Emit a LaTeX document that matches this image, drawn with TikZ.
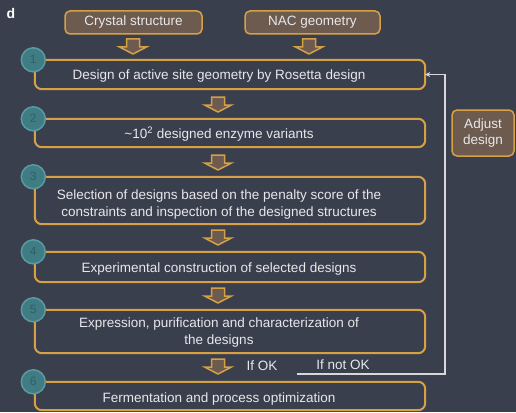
\documentclass[tikz,border=0pt]{standalone}
\usepackage{fontspec}
\setmainfont{Liberation Sans}
\usetikzlibrary{arrows.meta}
\definecolor{bg}{HTML}{3A3F4E}
\definecolor{gold}{HTML}{D6A144}
\definecolor{brownfill}{HTML}{6D5B4F}
\definecolor{txtcol}{HTML}{E8E8EA}
\definecolor{tealfill}{HTML}{3F7C84}
\definecolor{tealborder}{HTML}{5B9AA1}
\definecolor{numcol}{HTML}{2F5F67}
\definecolor{fbcol}{HTML}{D8D8D8}
\begin{document}
\begin{tikzpicture}[x=1pt,y=-1pt,
  txt/.style={text=txtcol,font=\fontsize{13.5}{17}\selectfont,align=center,inner sep=0pt,yshift=-1.5pt},
  srcbox/.style={draw=gold,fill=brownfill,line width=1.5pt,rounded corners=5pt,text=txtcol,
    font=\fontsize{13.5}{16}\selectfont,align=center,inner sep=0pt},
  stepbox/.style={draw=none,inner sep=0pt,minimum width=390pt},
  stepline/.style={draw=gold,line width=2pt,rounded corners=7pt},
  numc/.style={circle,fill=tealfill,draw=tealborder,line width=1.5pt,minimum size=24pt,inner sep=0pt,
    text=numcol,font=\fontsize{12}{12}\selectfont},
  fbline/.style={draw=fbcol,line width=1.3pt},
  blockarr/.pic={\draw[gold,fill=brownfill,line width=1.5pt,line join=miter]
     (-6.5,0) -- (6.5,0) -- (6.5,8) -- (13.5,8) -- (0,15) -- (-13.5,8) -- (-6.5,8) -- cycle;}
]
\fill[bg] (0,0) rectangle (516,412);
\useasboundingbox (0,0) rectangle (516,412);

\node[text=white,font=\fontsize{14}{14}\selectfont\bfseries,inner sep=0pt] (d) at (11,13) {d};

% source boxes
\node[srcbox,minimum width=137pt,minimum height=23pt] (cs) at (133.5,22.5) {Crystal structure};
\node[srcbox,minimum width=135pt,minimum height=23pt] (nac) at (312.5,22.5) {NAC geometry};

% step boxes (frames)
\node[stepbox,minimum height=29pt] (b1) at (230,74.5) {};
\node[stepbox,minimum height=28pt] (b2) at (230,133) {};
\node[stepbox,minimum height=47pt] (b3) at (230,200.5) {};
\node[stepbox,minimum height=30pt] (b4) at (230,267) {};
\node[stepbox,minimum height=43pt] (b5) at (230,331.5) {};
\node[stepbox,minimum height=28pt] (b6) at (230,396) {};
\foreach \b in {b1,b2,b3,b4,b5,b6}{
  \draw[stepline] (\b.north west) -- (\b.north east) -- (\b.south east) -- (\b.south west) -- (\b.north west);
}

% texts
\node[txt] (t1) at (219,74.5) {Design of active site geometry by Rosetta design};
\node[txt] (t2) at (219,132.5) {\textasciitilde10\textsuperscript{2} designed enzyme variants};
\node[txt] (t3) at (219,203) {Selection of designs based on the penalty score of the\\constraints and inspection of the designed structures};
\node[txt] (t4) at (219,267.5) {Experimental construction of selected designs};
\node[txt] (t5) at (219,331.5) {Expression, purification and characterization of\\the designs};
\node[txt] (t6) at (219,397.5) {Fermentation and process optimization};

% number circles
\node[numc] (c1) at ([xshift=-1.5pt]b1.north west) {1};
\node[numc] (c2) at ([xshift=-1.5pt]b2.north west) {2};
\node[numc] (c3) at ([xshift=-1.5pt]b3.north west) {3};
\node[numc] (c4) at ([xshift=-1.5pt]b4.north west) {4};
\node[numc] (c5) at ([xshift=-1.5pt]b5.north west) {5};
\node[numc] (c6) at ([xshift=-1.5pt]b6.north west) {6};

% block arrows
\pic at (133,39) {blockarr};
\pic at (309,39) {blockarr};
\pic at (218,97) {blockarr};
\pic at (218,155) {blockarr};
\pic at (218,230) {blockarr};
\pic at (218,288) {blockarr};
\pic at (218,359) {blockarr};

% adjust design
\node[srcbox,minimum width=62pt,minimum height=46pt] (adj) at (483,133) {Adjust\\design};

% feedback
\node[txt] (ok) at (262,364.5) {If OK};
\node[txt] (nok) at (343,363.5) {If not OK};
\coordinate (fbstart) at (297,374);
\coordinate (fbcorner) at (445,374);
\draw[fbline,-{Stealth[length=5pt,width=5pt]}] (fbstart) -- (fbcorner) |- (b1.east);
\end{tikzpicture}
\end{document}
